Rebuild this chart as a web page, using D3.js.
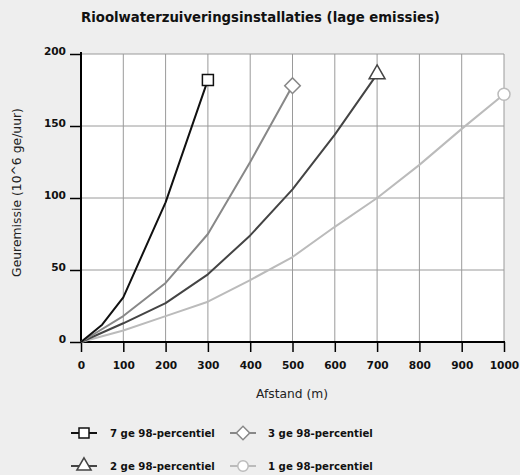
<!DOCTYPE html>
<html><head><meta charset="utf-8">
<script src="https://cdn.jsdelivr.net/npm/d3@7"></script>
<style>
body{margin:0;background:#eeeeee;}
svg{display:block;font-family:"DejaVu Sans",sans-serif;}
</style></head>
<body><svg id="c" width="520" height="475"></svg>
<script>
const title = "Rioolwaterzuiveringsinstallaties (lage emissies)";
const xTitle = "Afstand (m)";
const yTitle = "Geuremissie (10^6 ge/uur)";
const xTicks = [0,100,200,300,400,500,600,700,800,900,1000];
const yTicks = [0,50,100,150,200];
const seriesNames = ["7 ge 98-percentiel","3 ge 98-percentiel","2 ge 98-percentiel","1 ge 98-percentiel"];
const x7 = [0,50,100,200,300];
const y7 = [0,12,31,97,182];
const x3 = [0,100,200,300,400,500];
const y3 = [0,18,41,75,125,178];
const x2 = [0,100,200,300,400,500,600,700];
const y2 = [0,13,27,47,74,106,144,186];
const x1 = [0,100,200,300,400,500,600,700,800,900,1000];
const y1 = [0,8,18,28,43,59,80,100,123,148,172];

const styles = [
  {color:"#111111", sym:d3.symbolSquare, size:121, lsize:100, rot:0},
  {color:"#888888", sym:d3.symbolSquare, size:121, lsize:90, rot:45},
  {color:"#444444", sym:d3.symbolTriangle, size:110, lsize:88, rot:0},
  {color:"#bbbbbb", sym:d3.symbolCircle, size:113, lsize:85, rot:0}
];
const data = [[x7,y7],[x3,y3],[x2,y2],[x1,y1]].map(([xs,ys])=>xs.map((v,i)=>({x:v,y:ys[i]})));

const svg = d3.select("#c");
const L=81,R=504,T=54,B=342;
const xs = d3.scaleLinear().domain([0,1000]).range([L,R]);
const ys = d3.scaleLinear().domain([0,200]).range([B,T]);

function fit(sel, target){
  const n = sel.node();
  const fs = parseFloat(sel.attr("font-size"));
  const w = n.getComputedTextLength();
  if (w>0) sel.attr("font-size", (fs*target/w).toFixed(2));
  return sel;
}

svg.append("rect").attr("x",L).attr("y",T).attr("width",R-L).attr("height",B-T).attr("fill","#fff");

// grid
const g = svg.append("g");
g.selectAll(".vx").data(xTicks.slice(1)).join("line")
  .attr("x1",d=>xs(d)).attr("x2",d=>xs(d)).attr("y1",T).attr("y2",B)
  .attr("stroke","#9a9a9a").attr("stroke-width",1);
g.selectAll(".hy").data(yTicks.slice(1)).join("line")
  .attr("x1",L).attr("x2",R).attr("y1",d=>ys(d)).attr("y2",d=>ys(d))
  .attr("stroke","#9a9a9a").attr("stroke-width",1);

// axes
const xa = svg.append("g").attr("transform",`translate(0,${B})`)
  .call(d3.axisBottom(xs).tickValues(xTicks).tickFormat(d3.format("d")).tickSize(10).tickPadding(0).tickSizeOuter(0));
const ya = svg.append("g").attr("transform",`translate(${L},0)`)
  .call(d3.axisLeft(ys).tickValues(yTicks).tickFormat(d3.format("d")).tickSize(11).tickPadding(4).tickSizeOuter(0));
[xa,ya].forEach(a=>{
  a.select(".domain").attr("stroke","#000").attr("stroke-width",2);
  a.selectAll(".tick line").attr("stroke","#000").attr("stroke-width",1.5);
  a.selectAll(".tick text").attr("fill","#111").attr("font-size",10.6).attr("font-weight","bold")
    .attr("font-family","'DejaVu Sans',sans-serif");
});
xa.selectAll(".tick text").attr("dy",null).attr("y",27);
ya.selectAll(".tick text").attr("dy",null).attr("y",0);
ya.select(".domain").attr("d",`M0,${B+1}V${T-2}`);
xa.select(".domain").attr("d",`M${L-1},0H${R+1}`);

// lines
const line = d3.line().x(d=>xs(d.x)).y(d=>ys(d.y));
data.slice().reverse().forEach((ser,ri)=>{
  const i = data.length-1-ri;
  svg.append("path").datum(ser).attr("d",line).attr("fill","none")
    .attr("stroke",styles[i].color).attr("stroke-width",2).attr("stroke-linejoin","round");
});
data.forEach((ser,i)=>{
  const p = ser[ser.length-1];
  svg.append("path").attr("d",d3.symbol(styles[i].sym,styles[i].size)())
    .attr("transform",`translate(${xs(p.x)},${ys(p.y)}) rotate(${styles[i].rot})`)
    .attr("fill","#fff").attr("stroke",styles[i].color).attr("stroke-width",1.5);
});

// titles
fit(svg.append("text").attr("x",260.5).attr("y",22).attr("text-anchor","middle")
  .attr("font-size",13).attr("font-weight","bold").attr("fill","#111").text(title), 359);
fit(svg.append("text").attr("x",292).attr("y",398).attr("text-anchor","middle")
  .attr("font-size",12).attr("fill","#222").text(xTitle), 72);
fit(svg.append("text").attr("transform",`translate(21,${(108+277)/2}) rotate(-90)`).attr("text-anchor","middle")
  .attr("font-size",12).attr("fill","#222").text(yTitle), 169);

// legend
const lpos = [[84,433],[243,433],[84,466],[243,466]];
seriesNames.forEach((n,i)=>{
  const [cx,cy]=lpos[i];
  const lg = svg.append("g").attr("transform",`translate(${cx},${cy})`);
  lg.append("line").attr("x1",-13).attr("x2",13).attr("stroke",styles[i].color).attr("stroke-width",2);
  lg.append("path").attr("d",d3.symbol(styles[i].sym,styles[i].lsize)())
    .attr("transform",`rotate(${styles[i].rot})`)
    .attr("fill","#fff").attr("stroke",styles[i].color).attr("stroke-width",1.5);
  fit(lg.append("text").attr("x",i%2===0?26:25).attr("y",4).attr("font-size",10).attr("font-weight","bold")
    .attr("fill","#111").text(n), 105);
});
</script></body></html>
